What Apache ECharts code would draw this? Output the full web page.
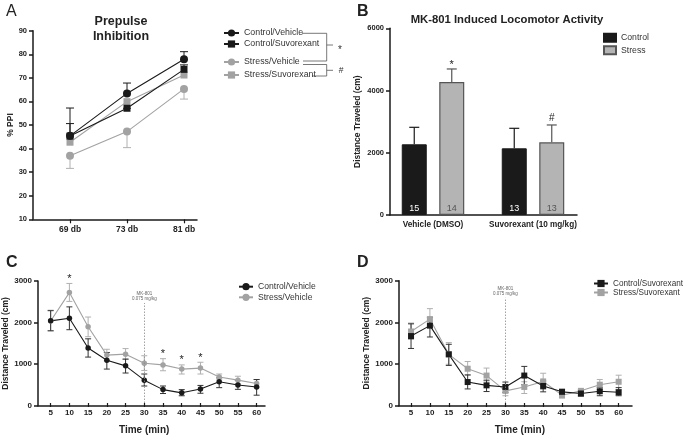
<!DOCTYPE html>
<html><head><meta charset="utf-8">
<script src="https://cdn.jsdelivr.net/npm/echarts@6.0.0/dist/echarts.min.js"></script>
<style>html,body{margin:0;padding:0;background:#fff}#c{width:685px;height:436px}</style>
</head><body><div id="c"></div>
<script>
// ---------- Panel A: Prepulse inhibition ----------
const ppiCats = ['69 db', '73 db', '81 db'];
const ppiCtrlVeh = [45.4, 63.4, 77.9];
const ppiCtrlVehErr = [57.2, 67.8, 81.1];
const ppiCtrlSuv = [45.3, 57.1, 73.6];
const ppiCtrlSuvErr = [50.6, 57.1, 75.5];
const ppiStrVeh = [37.0, 47.2, 65.3];
const ppiStrVehErr = [31.6, 40.4, 61.0];
const ppiStrSuv = [42.7, 59.9, 71.2];
const ppiTicks = [10, 90, 10];

// ---------- Panel B: MK-801 locomotor ----------
const locoCats = ['Vehicle (DMSO)', 'Suvorexant (10 mg/kg)'];
const locoCtrl = [2272, 2143];
const locoCtrlErr = [2818, 2786];
const locoStress = [4275, 2336];
const locoStressErr = [4693, 2893];
const locoCtrlN = [15, 13];
const locoStressN = [14, 13];
const locoStressMarks = ['*', '#'];
const locoTicks = [0, 6000, 2000];

// ---------- Panels C & D: time course ----------
const timeCats = ['5', '10', '15', '20', '25', '30', '35', '40', '45', '50', '55', '60'];
const cvMean = [2020, 2083, 1354, 1050, 913, 562, 329, 250, 346, 521, 442, 394];
const cvLo   = [1775, 1802, 1129, 834, 737, 418, 233, 178, 240, 377, 336, 192];
const cvHi   = [2270, 2364, 1578, 1242, 1081, 713, 418, 329, 432, 617, 553, 577];
const svMean = [2018, 2715, 1874, 1178, 1201, 978, 937, 834, 858, 641, 562, 480];
const svLo   = [1778, 2498, 1630, 1040, 1070, 800, 793, 713, 713, 570, 470, 390];
const svHi   = [2282, 2940, 2114, 1321, 1338, 1162, 1090, 937, 1002, 713, 658, 577];
const svMarks = ['', '*', '', '', '', '', '*', '*', '*', '', '', ''];

const csMean = [1642, 1898, 1194, 514, 433, 394, 673, 418, 274, 233, 288, 264];
const csLo   = [1338, 1619, 922, 345, 281, 262, 450, 274, 200, 170, 178, 178];
const csHi   = [1942, 2100, 1440, 690, 560, 514, 898, 540, 336, 300, 380, 377];
const ssMean = [1754, 2058, 1194, 841, 673, 298, 394, 529, 192, 298, 449, 521];
const ssLo   = [1560, 1860, 950, 680, 540, 178, 233, 330, 120, 230, 330, 330];
const ssHi   = [1962, 2315, 1482, 1018, 857, 440, 521, 730, 260, 330, 577, 682];
const timeTicks = [0, 3000, 1000];
const injectTime = '30';
const injectLineTopC = 2460;
const injectLineTopD = 2580;

// ---------- styling ----------
const FONT = 'Liberation Sans, Arial, Helvetica, sans-serif';
const BLACK = '#1a1a1a';
const GREY = '#a2a2a2';
const GREY_ERR = '#b0b0b0';

const chart = echarts.init(document.getElementById('c'), null, {renderer: 'canvas'});

function errBars(color, capHalf, twoSided, marks, xOff, markFont, lw) {
  return function (params, api) {
    const i = api.value(0);
    const p1 = api.coord([i, api.value(1)]);
    const p2 = api.coord([i, api.value(2)]);
    const x = p1[0] + (xOff || 0);
    const st = {stroke: color, lineWidth: lw || 1};
    const ch = [
      {type: 'line', shape: {x1: x, y1: p1[1], x2: x, y2: p2[1]}, style: st},
      {type: 'line', shape: {x1: x - capHalf, y1: p2[1], x2: x + capHalf, y2: p2[1]}, style: st}
    ];
    if (twoSided) ch.push({type: 'line', shape: {x1: x - capHalf, y1: p1[1], x2: x + capHalf, y2: p1[1]}, style: st});
    const m = marks ? marks[params.dataIndex] : '';
    if (m) {
      const top = Math.min(p1[1], p2[1]);
      const isStar = m === '*';
      ch.push({type: 'text', x: x, y: isStar ? top + 1 : top - 2,
        style: {text: m, fill: '#222', font: (isStar ? 'normal ' + markFont + 'px ' : 'normal ' + (markFont - 1) + 'px ') + FONT,
          align: 'center', verticalAlign: 'bottom'}});
    }
    return {type: 'group', children: ch};
  };
}

function frameY(grid, t, name, gap, fs) {
  return {type: 'value', gridIndex: grid, min: t[0], max: t[1], interval: t[2],
    axisLine: {show: true, lineStyle: {color: BLACK, width: 1.5}},
    axisTick: {show: true, length: 4, lineStyle: {color: BLACK, width: 1.5}},
    axisLabel: {show: true, margin: 6, color: '#222', fontFamily: FONT, fontWeight: 'bold', fontSize: fs || 8,
      formatter: v => String(v)},
    splitLine: {show: false},
    name: name, nameLocation: 'middle', nameGap: gap,
    nameTextStyle: {fontFamily: FONT, fontWeight: 'bold', fontSize: 8.5, color: '#222'}};
}
function dataY(grid, t) {
  return {type: 'value', gridIndex: grid, min: t[0], max: t[1], show: false, splitLine: {show: false}};
}
function frameX(grid) {
  return {type: 'value', gridIndex: grid, min: 0, max: 1,
    axisLine: {show: true, lineStyle: {color: BLACK, width: 1.5}},
    axisTick: {show: false}, axisLabel: {show: false}, splitLine: {show: false}};
}
function dataX(grid, cats, ticks, fs, name, pad) {
  return {type: 'category', gridIndex: grid, data: cats,
    axisLine: {show: false},
    axisTick: {show: ticks, alignWithLabel: true, length: 4, lineStyle: {color: BLACK, width: 1.2}},
    axisLabel: {show: true, margin: 6, color: '#222', fontFamily: FONT, fontWeight: 'bold', fontSize: fs, interval: 0},
    splitLine: {show: false},
    name: name || '', nameLocation: 'middle', nameGap: 22,
    nameTextStyle: {fontFamily: FONT, fontWeight: 'bold', fontSize: 10, color: '#222', padding: pad || 0}};
}

function lineSeries(name, data, xi, yi, color, symbol, size, extra) {
  return Object.assign({type: 'line', name: name, data: data, xAxisIndex: xi, yAxisIndex: yi,
    symbol: symbol, symbolSize: size, color: color, z: 3,
    lineStyle: {color: color, width: 1.1}, itemStyle: {color: color},
    emphasis: {disabled: true}, animation: false}, extra || {});
}
function errSeries(lo, hi, xi, yi, color, cap, two, marks, xOff, mf, lw) {
  return {type: 'custom', xAxisIndex: xi, yAxisIndex: yi, z: 2, silent: true, animation: false, clip: false,
    data: lo.map((v, i) => [i, v, hi[i]]),
    renderItem: errBars(color, cap, two, marks, xOff, mf || 11, lw)};
}
function legend(names, left, top, w, h, gap, fs, icon) {
  const l = {data: names, orient: 'vertical', left: left, top: top, padding: 0,
    itemWidth: w, itemHeight: h, itemGap: gap, selectedMode: false,
    textStyle: {fontFamily: FONT, fontSize: fs, color: '#333'}};
  if (icon) l.icon = icon;
  return l;
}

const barW = 25;
const barOff = (barW + barW * 0.5) / 2;

const option = {
  animation: false,
  backgroundColor: '#fff',
  textStyle: {fontFamily: FONT},
  title: [
    {text: 'A', left: 1, top: -1, textStyle: {fontFamily: FONT, fontSize: 16, fontWeight: 'normal', color: '#222'}},
    {text: 'B', left: 352, top: -1, textStyle: {fontFamily: FONT, fontSize: 16, fontWeight: 'bold', color: '#222'}},
    {text: 'C', left: 1, top: 250, textStyle: {fontFamily: FONT, fontSize: 16, fontWeight: 'bold', color: '#222'}},
    {text: 'D', left: 352, top: 250, textStyle: {fontFamily: FONT, fontSize: 16, fontWeight: 'bold', color: '#222'}},
    {text: 'Prepulse\nInhibition', left: 116, top: 9, textAlign: 'center',
      textStyle: {fontFamily: FONT, fontSize: 12.5, fontWeight: 'bold', lineHeight: 15, color: '#222'}},
    {text: 'MK-801 Induced Locomotor Activity', left: 502, top: 9, textAlign: 'center',
      textStyle: {fontFamily: FONT, fontSize: 11.3, fontWeight: 'bold', color: '#222'}}
  ],
  grid: [
    {left: 33, top: 30.7, width: 164, height: 188.6},
    {left: 41.5, top: 30.7, width: 171, height: 188.6},
    {left: 390, top: 28.3, width: 187, height: 186.7},
    {left: 383, top: 28.3, width: 200, height: 186.7},
    {left: 38, top: 281, width: 227, height: 124.7},
    {left: 41.3, top: 281, width: 224.7, height: 124.7},
    {left: 399, top: 280.7, width: 233, height: 125},
    {left: 401.6, top: 280.7, width: 226.5, height: 125}
  ],
  xAxis: [
    frameX(0), dataX(1, ppiCats, true, 8.5),
    frameX(2), dataX(3, locoCats, false, 8.2),
    frameX(4), dataX(5, timeCats, true, 8, 'Time (min)', [0, 19, 0, 0]),
    frameX(6), dataX(7, timeCats, true, 8, 'Time (min)', [0, 0, 0, 10])
  ],
  yAxis: [
    frameY(0, ppiTicks, '% PPI', 18, 7.5), dataY(1, ppiTicks),
    frameY(2, locoTicks, 'Distance Traveled (cm)', 28, 7.5), dataY(3, locoTicks),
    frameY(4, timeTicks, 'Distance Traveled (cm)', 27), dataY(5, timeTicks),
    frameY(6, timeTicks, 'Distance Traveled (cm)', 22), dataY(7, timeTicks)
  ],
  legend: [
    legend(['Control/Vehicle', 'Control/Suvorexant'], 223, 28.5, 15, 9, 2, 8.8),
    legend(['Stress/Vehicle', 'Stress/Suvorexant'], 223, 57.5, 15, 9, 4, 8.8),
    legend(['Control', 'Stress'], 603, 32.7, 12, 8, 2.6, 8.7, 'rect'),
    legend(['Control/Vehicle ', 'Stress/Vehicle '], 238, 282.2, 14, 9, 1.6, 8.6),
    legend(['Control/Suvorexant ', 'Stress/Suvorexant '], 593, 279.5, 14, 9, 1, 8.2)
  ],
  graphic: [
    // significance brackets beside legend A
    {type: 'group', silent: true, children: [
      {type: 'polyline', shape: {points: [[302, 33.3], [326.7, 33.3], [326.7, 61], [303, 61]]}, style: {stroke: '#555', lineWidth: 0.8, fill: null}},
      {type: 'line', shape: {x1: 326.7, y1: 45, x2: 333, y2: 45}, style: {stroke: '#555', lineWidth: 0.8}},
      {type: 'text', x: 340, y: 45, style: {text: '*', font: 'normal 10px ' + FONT, fill: '#333', align: 'center', verticalAlign: 'top'}},
      {type: 'polyline', shape: {points: [[303, 64.5], [326.7, 64.5], [326.7, 76], [312, 76]]}, style: {stroke: '#555', lineWidth: 0.8, fill: null}},
      {type: 'line', shape: {x1: 326.7, y1: 70.3, x2: 333, y2: 70.3}, style: {stroke: '#555', lineWidth: 0.8}},
      {type: 'text', x: 341, y: 71, style: {text: '#', font: 'normal 8.5px ' + FONT, fill: '#333', align: 'center', verticalAlign: 'middle'}}
    ]}
  ],
  series: [
    // ----- A -----
    errSeries(ppiStrVeh, ppiStrVehErr, 1, 1, GREY_ERR, 4, false),
    errSeries(ppiCtrlSuv, ppiCtrlSuvErr, 1, 1, BLACK, 4, false),
    errSeries(ppiCtrlVeh, ppiCtrlVehErr, 1, 1, BLACK, 4, false),
    lineSeries('Stress/Vehicle', ppiStrVeh, 1, 1, GREY, 'circle', 8),
    lineSeries('Stress/Suvorexant', ppiStrSuv, 1, 1, GREY, 'rect', 7),
    lineSeries('Control/Suvorexant', ppiCtrlSuv, 1, 1, BLACK, 'rect', 7),
    lineSeries('Control/Vehicle', ppiCtrlVeh, 1, 1, BLACK, 'circle', 8),
    // ----- B -----
    {type: 'bar', name: 'Control', data: locoCtrl, xAxisIndex: 3, yAxisIndex: 3, barWidth: barW, barGap: '50%',
      color: BLACK, itemStyle: {color: BLACK, borderColor: BLACK, borderWidth: 1},
      label: {show: true, position: 'insideBottom', distance: 2, color: '#fff', fontFamily: FONT, fontSize: 9,
        formatter: p => String(locoCtrlN[p.dataIndex])}, silent: true},
    {type: 'bar', name: 'Stress', data: locoStress, xAxisIndex: 3, yAxisIndex: 3, barWidth: barW, barGap: '50%',
      color: '#b4b4b4', itemStyle: {color: '#b4b4b4', borderColor: '#555', borderWidth: 1.2},
      label: {show: true, position: 'insideBottom', distance: 2, color: '#555', fontFamily: FONT, fontSize: 9,
        formatter: p => String(locoStressN[p.dataIndex])}, silent: true},
    errSeries(locoCtrl, locoCtrlErr, 3, 3, BLACK, 5, false, null, -barOff, 11, 1.2),
    errSeries(locoStress, locoStressErr, 3, 3, '#555', 5, false, locoStressMarks, barOff, 11, 1.2),
    // ----- C -----
    errSeries(svLo, svHi, 5, 5, GREY_ERR, 3, true, svMarks, 0, 11),
    errSeries(cvLo, cvHi, 5, 5, '#333', 3, true),
    lineSeries('Stress/Vehicle ', svMean, 5, 5, GREY, 'circle', 5.5, {
      markLine: {silent: true, symbol: 'none', animation: false,
        lineStyle: {color: '#8a8a8a', type: [1.5, 1.5], width: 0.8},
        label: {show: true, position: 'end', distance: 2, formatter: 'MK-801\n0.075 mg/kg',
          fontSize: 4.5, lineHeight: 4.6, color: '#666', fontFamily: FONT},
        data: [[{coord: [injectTime, 0]}, {coord: [injectTime, injectLineTopC]}]]}}),
    lineSeries('Control/Vehicle ', cvMean, 5, 5, BLACK, 'circle', 5.5),
    // ----- D -----
    errSeries(ssLo, ssHi, 7, 7, GREY_ERR, 3, true),
    errSeries(csLo, csHi, 7, 7, '#333', 3, true),
    lineSeries('Stress/Suvorexant ', ssMean, 7, 7, GREY, 'rect', 6, {
      markLine: {silent: true, symbol: 'none', animation: false,
        lineStyle: {color: '#8a8a8a', type: [1.5, 1.5], width: 0.8},
        label: {show: true, position: 'end', distance: 2, formatter: 'MK-801\n0.075 mg/kg',
          fontSize: 4.5, lineHeight: 4.6, color: '#666', fontFamily: FONT},
        data: [[{coord: [injectTime, 0]}, {coord: [injectTime, injectLineTopD]}]]}}),
    lineSeries('Control/Suvorexant ', csMean, 7, 7, BLACK, 'rect', 6)
  ]
};
chart.setOption(option);
</script></body></html>
